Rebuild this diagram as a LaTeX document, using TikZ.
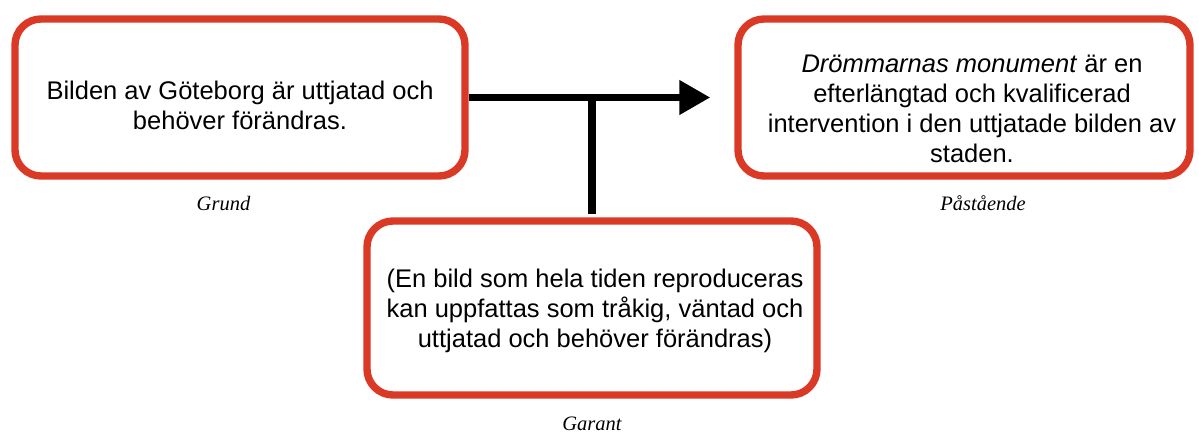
\documentclass[tikz,border=0pt]{standalone}
\usepackage{fontspec}
\setmainfont{Liberation Sans}
\newfontfamily\captionfont{Liberation Serif}
\usetikzlibrary{arrows.meta}
\definecolor{boxred}{RGB}{218,57,38}

\begin{document}
\begin{tikzpicture}[x=0.5pt, y=-0.5pt,
		argbox/.style={draw=boxred, line width=3.7pt, rounded corners=13pt, minimum width=225pt, minimum height=78.5pt, inner sep=0pt},
		argtext/.style={align=center, inner sep=0pt, font=\fontsize{12.75}{15}\selectfont},
		caption/.style={anchor=base, inner sep=0pt, font=\fontsize{10.25}{12}\captionfont\itshape},
		conn/.style={line width=3.7pt, black}]
		%%%%% START %%%%%
		
		\useasboundingbox (0,0) rectangle (1199,432);
		
		\node[argbox] (grund) at (240,97.5) {};
		\node[argbox, minimum width=226pt] (pastaende) at (964,97.5) {};
		\node[argbox, minimum height=87pt] (garant) at (592,308) {};
		
		\node[argtext] (grundtext) at (240,105.5) {Bilden av Göteborg är uttjatad och\\behöver förändras.};
		\node[argtext] (pastaendetext) at (972,108.5) {\textit{Drömmarnas monument} är en\\efterlängtad och kvalificerad\\intervention i den uttjatade bilden av\\staden.};
		\node[argtext] (garanttext) at (595,311) {(En bild som hela tiden reproduceras\\kan uppfattas som tråkig, väntad och\\uttjatad och behöver förändras)};
		
		\node[caption] (grundcap) at (223.5,211) {Grund};
		\node[caption] (pastaendecap) at (983,211) {Påstående};
		\node[caption] (garantcap) at (592,430) {Garant};
		
		\draw[conn, -{Triangle[length=15.5pt, width=16.5pt]}] (grund.east) -- ([xshift=-12pt]pastaende.west);
		\draw[conn, shorten <=1.85pt] (garant.north) -- (garant.north |- grund.east);
		
		%%%%% END %%%%%
	\end{tikzpicture}
\end{document}
